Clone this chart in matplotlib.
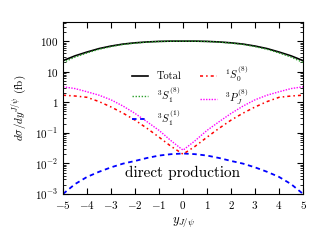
import numpy as np
import matplotlib
matplotlib.use("Agg")
import matplotlib.pyplot as plt
from matplotlib.ticker import FixedLocator, LogLocator, NullFormatter

plt.rcParams['font.family'] = 'cmr10'
plt.rcParams['mathtext.fontset'] = 'cm'
plt.rcParams['axes.formatter.use_mathtext'] = True

y_rap = [-5, -4.5, -4, -3.5, -3, -2.5, -2, -1.5, -1, -0.5, 0,
         0.5, 1, 1.5, 2, 2.5, 3, 3.5, 4, 4.5, 5]
total = [23, 33, 44, 57, 69, 80, 88, 94, 98, 100, 100,
         100, 98, 94, 88, 80, 69, 57, 44, 33, 23]
s1_oct = [20, 30, 41, 54, 66, 78, 86, 93, 97, 99.5, 100,
          99.5, 97, 93, 86, 78, 66, 54, 41, 30, 20]
s1_sing = [0.001, 0.0021, 0.0036, 0.0053, 0.0074, 0.0098, 0.012, 0.015, 0.018, 0.020, 0.021,
           0.020, 0.018, 0.015, 0.012, 0.0098, 0.0074, 0.0053, 0.0036, 0.0021, 0.001]
s0_oct = [1.7, 1.6, 1.45, 1.05, 0.7, 0.44, 0.26, 0.14, 0.072, 0.036, 0.02,
          0.036, 0.072, 0.14, 0.26, 0.44, 0.7, 1.05, 1.45, 1.6, 1.7]
pj_oct = [3.2, 2.8, 2.2, 1.7, 1.2, 0.75, 0.43, 0.23, 0.12, 0.055, 0.027,
          0.055, 0.12, 0.23, 0.43, 0.75, 1.2, 1.7, 2.2, 2.8, 3.2]

fig = plt.figure(figsize=(3.2, 2.4), dpi=100)
ax = fig.add_axes([0.197, 0.192, 0.75, 0.716])

ax.plot(y_rap, total, color='black', lw=1.2, label='Total')
ax.plot(y_rap, s1_oct, color='#2ca02c', lw=1.0, ls=(0, (1, 1.2)),
        label=r'${}^3S_1^{(8)}$')
ax.plot(y_rap, s1_sing, color='blue', lw=1.3, ls=(0, (2.5, 2)),
        label=r'${}^3S_1^{(1)}$')
ax.plot(y_rap, s0_oct, color='red', lw=1.1, ls=(0, (2, 2, 1, 2)),
        label=r'${}^1S_0^{(8)}$')
ax.plot(y_rap, pj_oct, color='magenta', lw=1.0, ls=(0, (1, 1)),
        label=r'${}^3P_J^{(8)}$')

ax.set_yscale('log')
ax.set_xlim(-5, 5)
ax.set_ylim(1e-3, 420)
ax.set_xticks(range(-5, 6))
ax.set_xticklabels([r'$%d$' % v if v >= 0 else r'$-%d$' % (-v) for v in range(-5, 6)])
ax.yaxis.set_major_locator(FixedLocator([1e-3, 1e-2, 1e-1, 1, 10, 100]))
ax.set_yticklabels([r'$10^{-3}$', r'$10^{-2}$', r'$10^{-1}$', r'$1$', r'$10$', r'$100$'])
ax.yaxis.set_minor_locator(LogLocator(base=10, subs=np.arange(2, 10)))
ax.yaxis.set_minor_formatter(NullFormatter())
ax.tick_params(which='both', direction='in', top=True, right=True, labelsize=8)
ax.tick_params(which='major', length=4)
ax.tick_params(which='minor', length=2)

ax.set_xlabel(r'$y_{J/\psi}$', fontsize=9)
ax.set_ylabel(r'$d\sigma/dy^{J/\psi}$ (fb)', fontsize=8)

ax.legend(ncol=2, frameon=False, fontsize=7.5, loc='upper center',
          bbox_to_anchor=(0.53, 0.81), handlelength=1.6, columnspacing=1.8,
          labelspacing=0.3)
ax.text(0, 0.005, 'direct production', ha='center', va='center', fontsize=11)

fig.savefig('out.png', dpi=100)
